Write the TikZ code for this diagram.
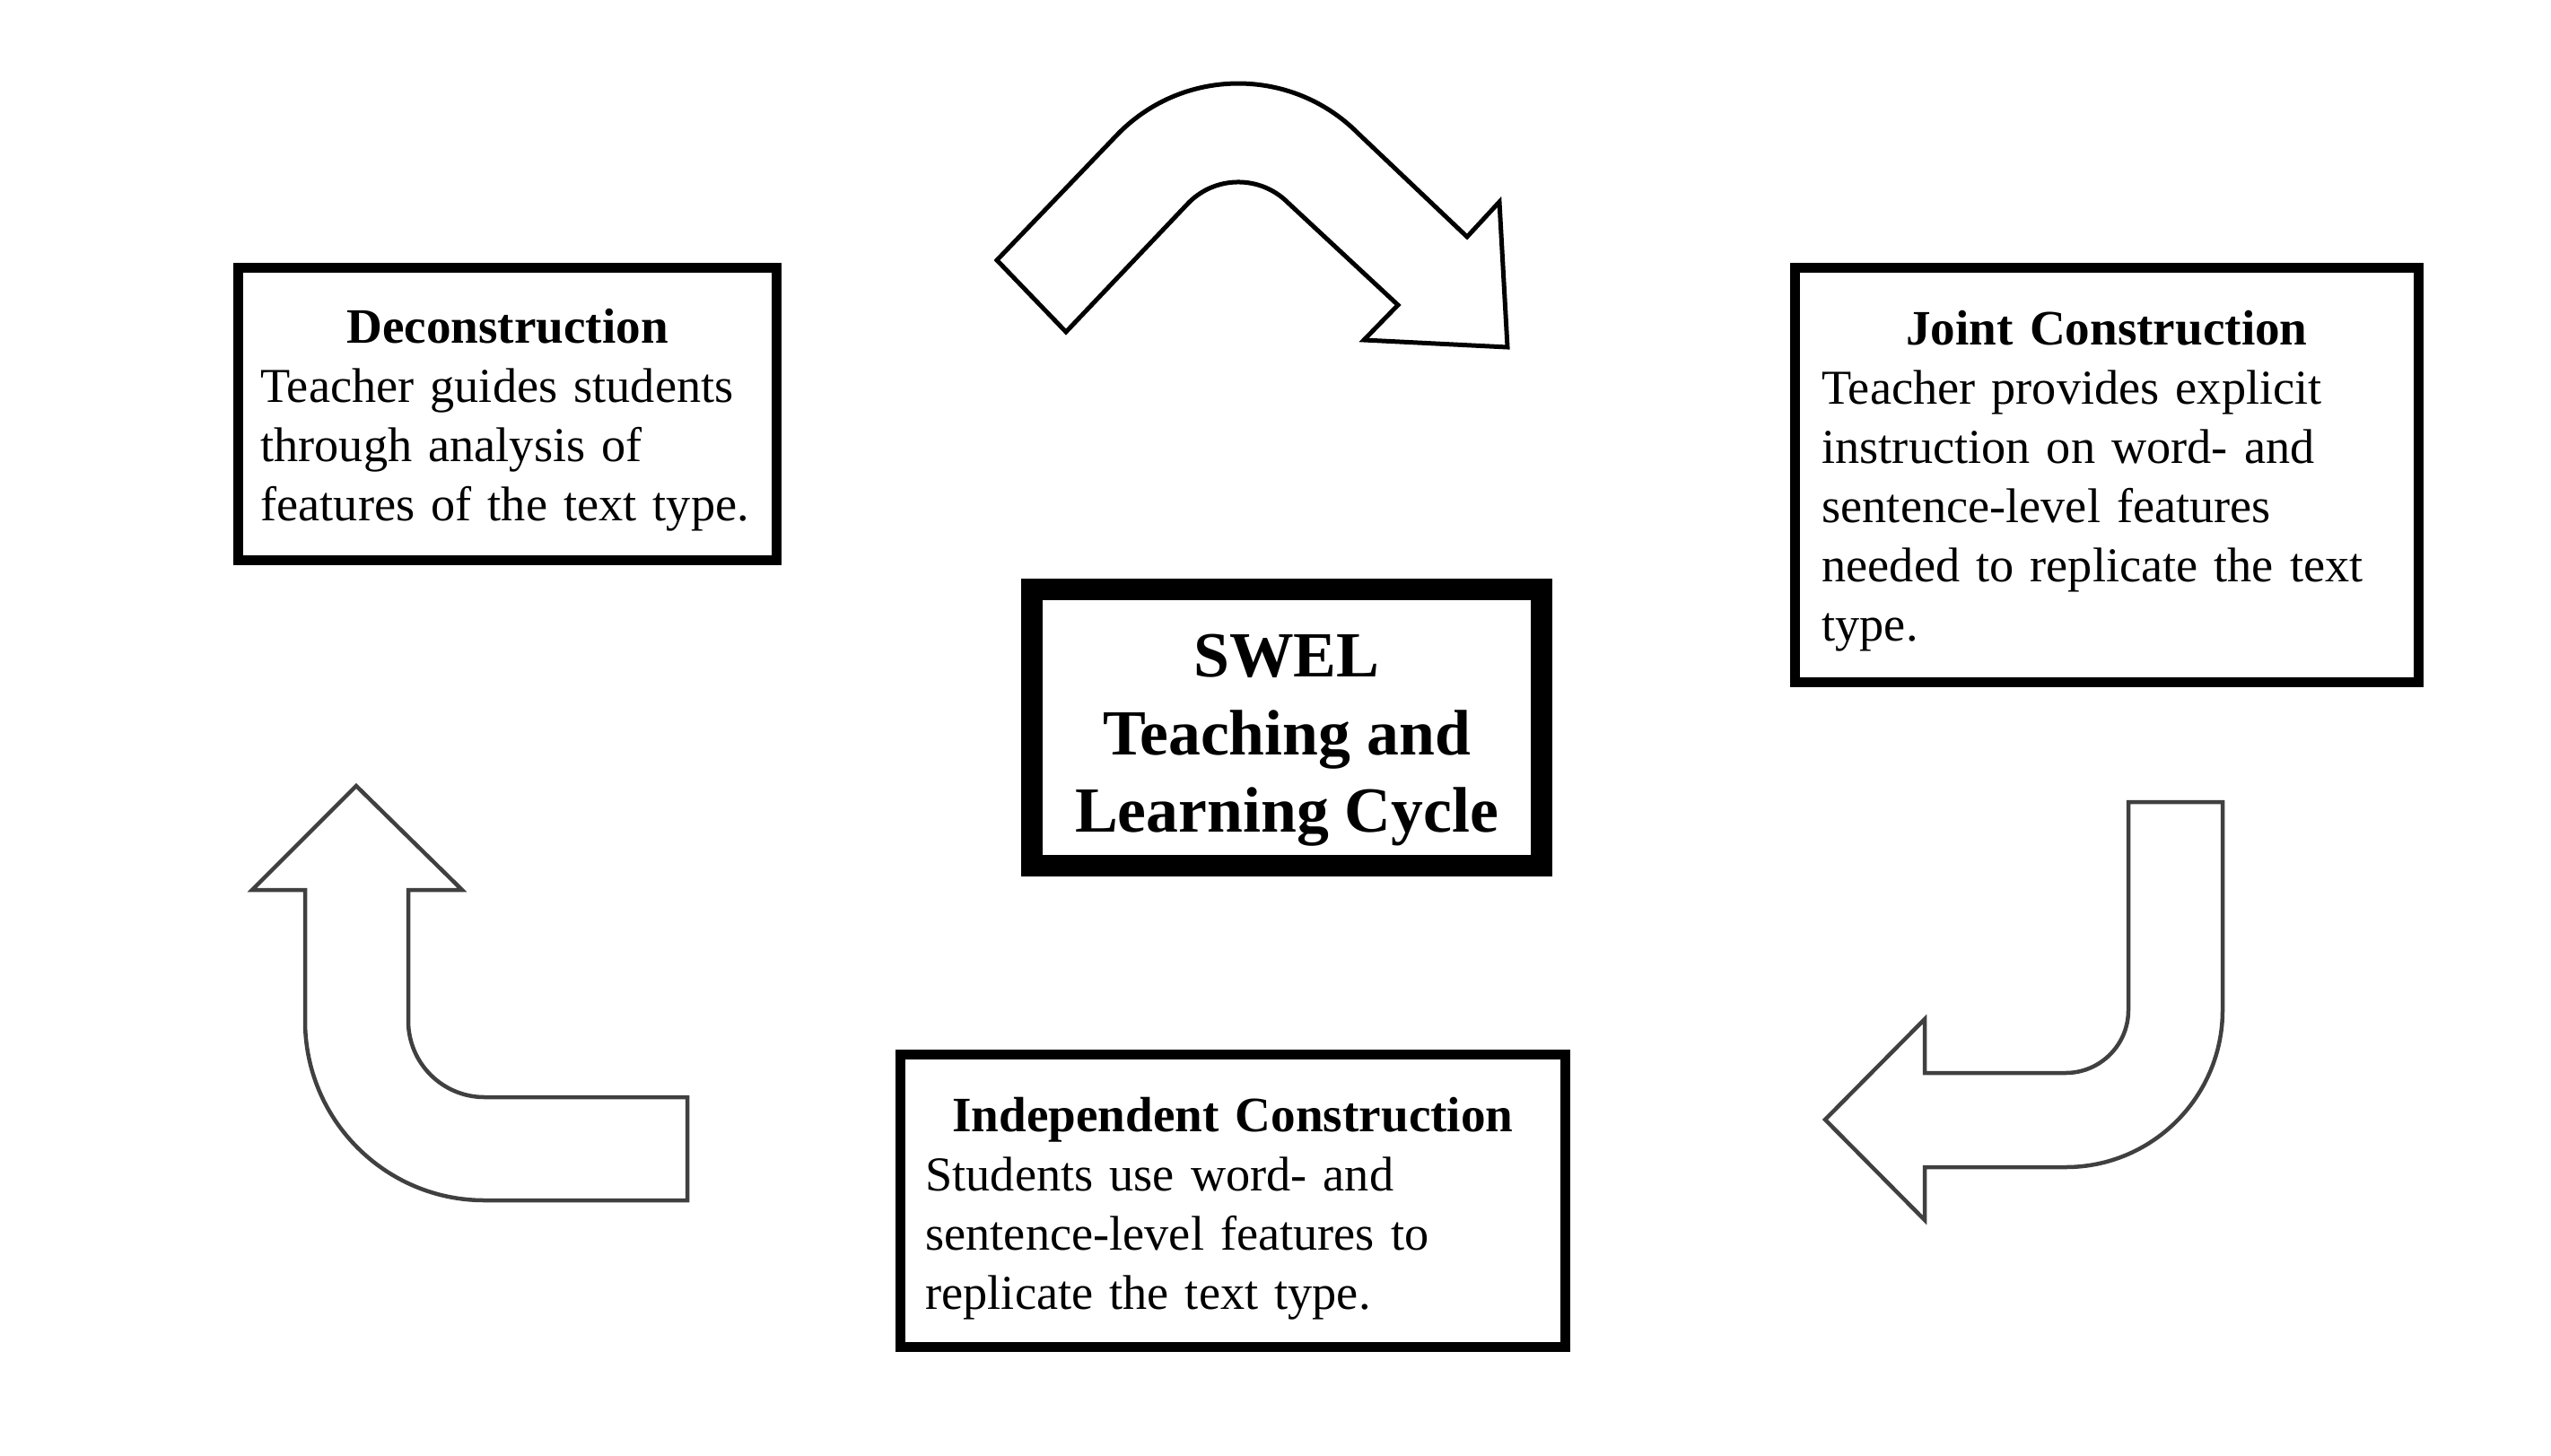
\documentclass[tikz,border=0pt]{standalone}
\usepackage{fontspec}
\setmainfont{Liberation Serif}
\definecolor{arrowgrey}{HTML}{404040}
\hyphenpenalty=10000

\begin{document}
\begin{tikzpicture}
    \tikzstyle{every node}+=[inner sep=0pt]
    \tikzstyle{stage}=[draw=black, line width=0.11cm, align=left, font=\fontsize{15.45}{18.8}\selectfont]
    \tikzstyle{hub}=[draw=black, line width=0.24cm, align=center, font=\fontsize{20.4}{24.5}\selectfont\bfseries]
    \tikzstyle{turn}=[draw=arrowgrey, line width=0.045cm]
    \useasboundingbox (0,0) rectangle (28.43,-16.22);
    \node [hub, minimum width=5.68cm, minimum height=3.08cm] (swel) at (14.34,-8.11) {\rule{0pt}{0.76cm}SWEL\\Teaching and\\Learning Cycle};
    \node [stage, minimum width=6.00cm, minimum height=3.26cm, text width=5.5cm] (decon) at (5.655,-4.615) {{\centering\fontsize{15.7}{18.8}\selectfont\rule{0pt}{0.52cm}\textbf{Deconstruction}\par}Teacher guides students\\through analysis of\\features of the text type.};
    \node [stage, minimum width=6.95cm, minimum height=4.62cm, text width=6.35cm] (joint) at (23.48,-5.295) {{\centering\fontsize{15.7}{18.8}\selectfont\rule{0pt}{0.52cm}\textbf{Joint Construction}\par}Teacher provides explicit\\instruction on word- and\\sentence-level features\\needed to replicate the text\\type.};
    \node [stage, minimum width=7.41cm, minimum height=3.26cm, text width=6.85cm] (indep) at (13.74,-13.385) {{\centering\fontsize{15.7}{18.8}\selectfont\rule{0pt}{0.56cm}\textbf{Independent Construction}\par}Students use word- and\\sentence-level features to\\replicate the text type.};
    % top arrow
    \draw [black, line width=0.05cm] (11.11,-2.90) -- (12.471,-1.481) arc (135:45:1.88) -- (16.35,-2.64) -- (16.71,-2.25) -- (16.80,-3.87) -- (15.20,-3.79) -- (15.58,-3.40) -- (14.352,-2.258) arc (45:135:0.78) -- (11.88,-3.70) -- cycle;
    % right arrow
    \draw [turn] (23.72,-8.94) -- (24.77,-8.94) -- (24.77,-11.26) arc (0:-90:1.75) -- (21.45,-13.01) -- (21.45,-13.60) -- (20.34,-12.48) -- (21.45,-11.36) -- (21.45,-11.96) -- (23.02,-11.96) arc (-90:0:0.70) -- cycle;
    % left arrow
    \draw [turn] (3.97,-8.76) -- (5.15,-9.92) -- (4.55,-9.92) -- (4.55,-11.38) arc (180:270:0.85) -- (7.66,-12.23) -- (7.66,-13.38) -- (5.40,-13.38) arc (270:180:2.00) -- (3.40,-9.92) -- (2.81,-9.92) -- cycle;
\end{tikzpicture}
\end{document}
